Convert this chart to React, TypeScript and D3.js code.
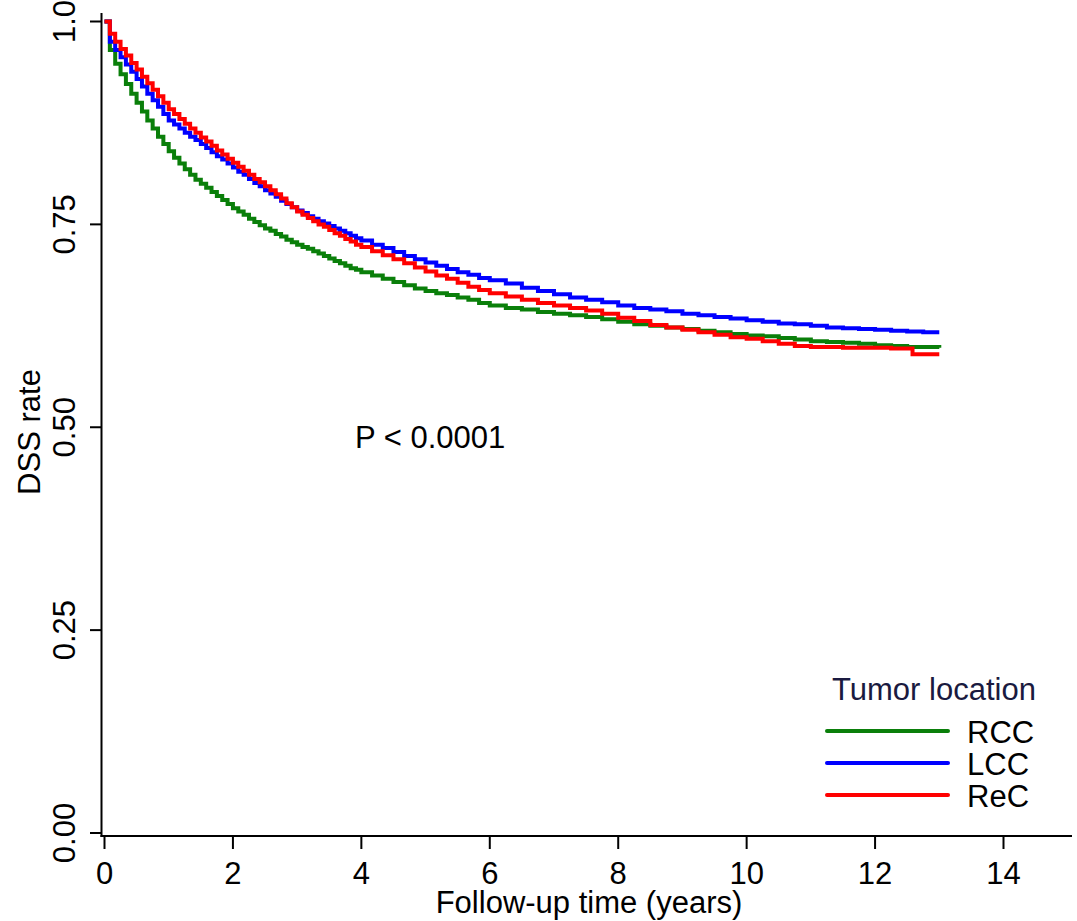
import React from 'react'
import * as d3 from 'd3'

const months = [
  0, 1, 2, 3, 4, 5, 6, 7, 8, 9, 10, 11, 12, 13, 14, 15, 16, 17, 18, 19, 20, 21, 22, 23, 24,
  25, 26, 27, 28, 29, 30, 31, 32, 33, 34, 35, 36,
  37, 38, 39, 40, 41, 42, 43, 44, 45, 46, 47, 48,
  50, 52, 54, 56, 58, 60, 62, 64, 66, 68, 70, 72,
  75, 78, 81, 84, 87, 90, 93, 96, 99, 102, 105, 108, 111, 114, 117, 120,
  123, 126, 129, 132, 135, 138, 141, 144, 147, 150, 151, 153, 156
]

const rccValues = [
  1.0, 0.965, 0.948, 0.935, 0.923, 0.911, 0.9, 0.889, 0.878, 0.868, 0.858, 0.849, 0.84,
  0.832, 0.825, 0.818, 0.811, 0.805, 0.8, 0.795, 0.79, 0.785, 0.78, 0.775, 0.77,
  0.766, 0.762, 0.757, 0.753, 0.749, 0.745, 0.742, 0.738, 0.735, 0.731, 0.728, 0.725,
  0.722, 0.72, 0.717, 0.714, 0.711, 0.708, 0.705, 0.702, 0.699, 0.696, 0.694, 0.691,
  0.687, 0.683, 0.679, 0.675, 0.671, 0.668, 0.665, 0.663, 0.66, 0.657, 0.653, 0.65,
  0.647, 0.645, 0.642, 0.64, 0.638, 0.636, 0.633, 0.63, 0.627, 0.625, 0.623, 0.621,
  0.619, 0.617, 0.615, 0.613, 0.612, 0.61, 0.608, 0.606, 0.605, 0.604, 0.603, 0.601,
  0.6, 0.599, 0.599, 0.599, 0.598
]

const lccValues = [
  1.0, 0.975, 0.965, 0.956, 0.947, 0.938, 0.929, 0.92, 0.911, 0.903, 0.895, 0.886, 0.878,
  0.873, 0.868, 0.863, 0.858, 0.854, 0.849, 0.844, 0.839, 0.834, 0.83, 0.825, 0.82,
  0.815, 0.811, 0.806, 0.801, 0.797, 0.792, 0.788, 0.784, 0.779, 0.775, 0.771, 0.767,
  0.764, 0.76, 0.757, 0.754, 0.751, 0.748, 0.745, 0.742, 0.739, 0.736, 0.733, 0.73,
  0.725, 0.721, 0.716, 0.711, 0.707, 0.703, 0.699, 0.695, 0.691, 0.688, 0.684, 0.681,
  0.677, 0.672, 0.668, 0.664, 0.66, 0.657, 0.654, 0.65, 0.647, 0.645, 0.643, 0.64,
  0.638, 0.636, 0.634, 0.632, 0.63, 0.628, 0.627, 0.625, 0.623, 0.622, 0.621, 0.62,
  0.619, 0.618, 0.618, 0.617, 0.617
]

const recValues = [
  1.0, 0.985, 0.975, 0.966, 0.958, 0.949, 0.941, 0.932, 0.924, 0.916, 0.908, 0.9, 0.892,
  0.886, 0.88, 0.874, 0.868, 0.863, 0.857, 0.852, 0.847, 0.841, 0.836, 0.831, 0.826,
  0.821, 0.816, 0.811, 0.806, 0.802, 0.797, 0.792, 0.787, 0.782, 0.776, 0.771, 0.766,
  0.762, 0.758, 0.754, 0.75, 0.747, 0.743, 0.739, 0.736, 0.732, 0.729, 0.725, 0.722,
  0.717, 0.712, 0.707, 0.702, 0.697, 0.692, 0.687, 0.683, 0.678, 0.673, 0.669, 0.665,
  0.661, 0.657, 0.653, 0.65, 0.647, 0.644, 0.64, 0.635, 0.631, 0.626, 0.623, 0.62,
  0.617, 0.614, 0.611, 0.609, 0.606, 0.603, 0.6, 0.599, 0.599, 0.598, 0.598, 0.598,
  0.597, 0.597, 0.59, 0.59, 0.59
]

const seriesNames = ['RCC', 'LCC', 'ReC']
const seriesColors = ['#0a7f0a', '#0000ff', '#ff0000']
const xTicks = [0, 2, 4, 6, 8, 10, 12, 14]
const yTicks = [0, 0.25, 0.5, 0.75, 1]
const yTickLabels = ['0.00', '0.25', '0.50', '0.75', '1.0']

const font = '"Liberation Sans", Arial, sans-serif'

export default function App() {
  const width = 1077
  const height = 921

  const xScale = d3.scaleLinear().domain([0, 14]).range([104.5, 1003.5])
  const yScale = d3.scaleLinear().domain([0, 1]).range([833, 21.5])

  const allValues = [rccValues, lccValues, recValues]
  const line = d3.line<[number, number]>()
    .curve(d3.curveStepAfter)
    .x((d) => xScale(d[0] / 12))
    .y((d) => yScale(d[1]))

  const axisY = 836
  const axisX = 101.5
  const fs = 31

  return (
    <svg width={width} height={height} style={{ position: 'absolute', left: 0, top: 0, background: '#fff' }}
      fontFamily={font}>
      <rect width={width} height={height} fill="#fff" />

      {/* curves */}
      <g fill="none" strokeWidth={4}>
        {allValues.map((vals, i) => (
          <path key={seriesNames[i]}
            d={line(months.map((m, j) => [m, vals[j]] as [number, number])) || ''}
            stroke={seriesColors[i]} />
        ))}
      </g>

      {/* y axis */}
      <line x1={axisX} x2={axisX} y1={13} y2={axisY + 1} stroke="#000" strokeWidth={2} />
      {yTicks.map((t, i) => (
        <g key={t} transform={`translate(0,${yScale(t)})`}>
          <line x1={90} x2={axisX} stroke="#000" strokeWidth={2} />
          <text transform="translate(75,0) rotate(-90)" textAnchor="middle" fontSize={fs} fill="#000">
            {yTickLabels[i]}
          </text>
        </g>
      ))}
      <text transform="translate(40,432) rotate(-90)" textAnchor="middle" fontSize={fs} fill="#000">DSS rate</text>

      {/* x axis */}
      <line x1={axisX - 1} x2={1072} y1={axisY} y2={axisY} stroke="#000" strokeWidth={2} />
      {xTicks.map((t) => (
        <g key={t} transform={`translate(${xScale(t)},0)`}>
          <line y1={axisY} y2={849} stroke="#000" strokeWidth={2} />
          <text y={884} textAnchor="middle" fontSize={fs} fill="#000">{t}</text>
        </g>
      ))}
      <text x={589} y={913} textAnchor="middle" fontSize={fs} fill="#000">Follow-up time (years)</text>

      <text x={355} y={448} fontSize={fs} fill="#000">P &lt; 0.0001</text>

      {/* legend */}
      <text x={832} y={700} fontSize={fs} fill="#1a1a40">Tumor location</text>
      {seriesNames.map((name, i) => (
        <g key={name} transform={`translate(0,${731 + i * 32})`}>
          <line x1={827} x2={948} stroke={seriesColors[i]} strokeWidth={4} strokeLinecap="round" />
          <text x={967} y={12} fontSize={fs} fill="#000">{name}</text>
        </g>
      ))}
    </svg>
  )
}
